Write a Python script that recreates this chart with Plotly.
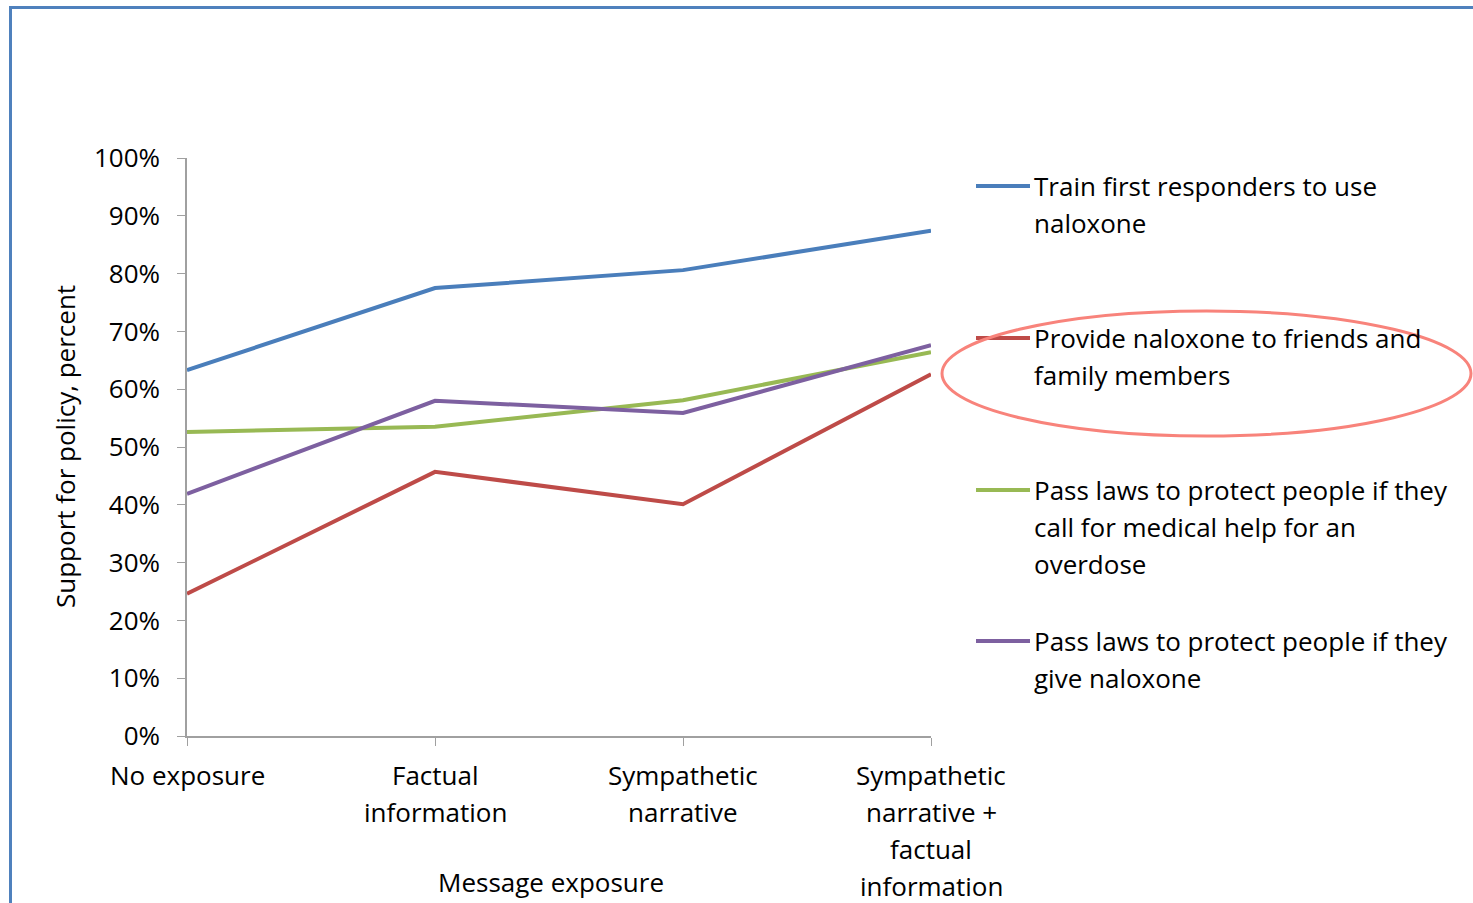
import plotly.graph_objects as go

categories = ["No exposure", "Factual<br>information", "Sympathetic<br>narrative",
              "Sympathetic<br>narrative +<br>factual<br>information"]
series_names = ["Train first responders to use<br>naloxone",
                "Provide naloxone to friends and<br>family members",
                "Pass laws to protect people if they<br>call for medical help for an<br>overdose",
                "Pass laws to protect people if they<br>give naloxone"]
train_responders = [63.3, 77.5, 80.6, 87.4]
friends_family = [24.6, 45.7, 40.1, 62.6]
call_for_help = [52.6, 53.5, 58.1, 66.4]
give_naloxone = [41.9, 58.0, 55.9, 67.6]
y_ticks = [0, 10, 20, 30, 40, 50, 60, 70, 80, 90, 100]
y_tick_labels = [f"{v}%" for v in y_ticks]

colors = ["#4A7EBB", "#BE4B48", "#98B954", "#7D60A0"]
values = [train_responders, friends_family, call_for_help, give_naloxone]

W, H = 1473, 903
L, R, T, B = 187, 931, 158, 736
FONT = "Open Sans"
FS = 26


def px(x):
    return (x - L) / (R - L)


def py(y):
    return (B - y) / (B - T)


fig = go.Figure()
xs = list(range(len(categories)))
for name, vals, col in zip(series_names, values, colors):
    fig.add_trace(go.Scatter(x=xs, y=vals, mode="lines", name=name.replace("<br>", " "),
                             line=dict(color=col, width=4), showlegend=False))

shapes = []
annotations = []

# x tick labels (per line for spacing control)
for i, cat in enumerate(categories):
    for j, line in enumerate(cat.split("<br>")):
        annotations.append(dict(x=i, xref="x", y=py(775 + 37 * j), yref="paper",
                                text=line, showarrow=False, xanchor="center", yanchor="middle",
                                font=dict(family=FONT, size=FS, color="#000000")))

# axis titles
annotations.append(dict(x=px(551), xref="paper", y=py(882), yref="paper", text="Message exposure",
                        showarrow=False, xanchor="center", yanchor="middle",
                        font=dict(family=FONT, size=FS, color="#000000")))
annotations.append(dict(x=px(65), xref="paper", y=py(447), yref="paper",
                        text="Support for policy, percent", textangle=-90,
                        showarrow=False, xanchor="center", yanchor="middle",
                        font=dict(family=FONT, size=FS, color="#000000")))

# legend
legend_tops = [186, 338, 490, 641]
for name, col, ytop in zip(series_names, colors, legend_tops):
    shapes.append(dict(type="line", xref="paper", yref="paper", x0=px(976), x1=px(1030),
                       y0=py(ytop), y1=py(ytop), line=dict(color=col, width=4)))
    for j, line in enumerate(name.split("<br>")):
        annotations.append(dict(x=px(1032), xref="paper", y=py(ytop + 37 * j), yref="paper",
                                text=line, showarrow=False, xanchor="left", yanchor="middle",
                                font=dict(family=FONT, size=FS, color="#000000")))

# highlight ellipse
shapes.append(dict(type="circle", xref="paper", yref="paper", x0=px(942), x1=px(1471),
                   y0=py(311), y1=py(436), line=dict(color="#F8837B", width=3)))

# frame border (top and left)
shapes.append(dict(type="line", xref="paper", yref="paper", x0=px(9), x1=px(1473),
                   y0=py(7.5), y1=py(7.5), line=dict(color="#4F81BD", width=3)))
shapes.append(dict(type="line", xref="paper", yref="paper", x0=px(10.5), x1=px(10.5),
                   y0=py(6), y1=py(903), line=dict(color="#4F81BD", width=3)))

fig.update_layout(
    width=W, height=H,
    margin=dict(l=L, r=W - R, t=T, b=H - B),
    paper_bgcolor="white", plot_bgcolor="white",
    font=dict(family=FONT, size=FS, color="#000000"),
    shapes=shapes, annotations=annotations,
    showlegend=False,
)
fig.update_xaxes(range=[0, 3], tickvals=xs, ticktext=[""] * len(xs), ticks="outside",
                 ticklen=8, tickcolor="#A0A0A0", showline=True, linecolor="#A0A0A0",
                 linewidth=1.5, showgrid=False, zeroline=False)
fig.update_yaxes(range=[0, 100], tickvals=y_ticks, ticktext=y_tick_labels, ticks="outside",
                 ticklen=8, tickcolor="#A0A0A0", showline=True, linecolor="#A0A0A0",
                 linewidth=1.5, showgrid=False, zeroline=False, ticklabelstandoff=12,
                 tickfont=dict(family=FONT, size=FS, color="#000000"))

fig.write_html("out.html", config={"displayModeBar": False},
               post_script="document.body.style.margin='0';document.body.style.padding='0';")
